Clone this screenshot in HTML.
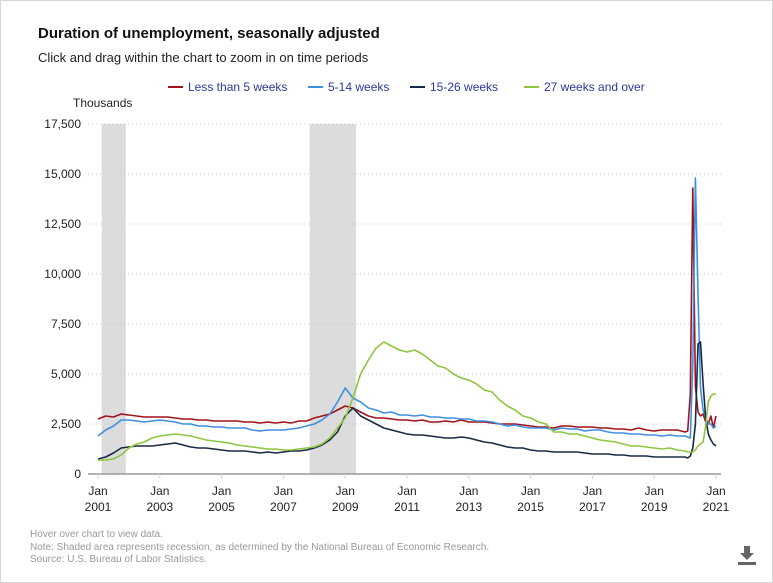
<!DOCTYPE html>
<html><head><meta charset="utf-8"><style>
body{margin:0;background:#fff;font-family:"Liberation Sans",sans-serif}
#wrap{position:relative;width:771px;height:581px;border:1px solid #d6d6d6;overflow:hidden}
.t{position:absolute;white-space:nowrap}
</style></head><body>
<div id="wrap">
<div class="t" style="left:37px;top:24px;font-size:15px;font-weight:bold;color:#111">Duration of unemployment, seasonally adjusted</div>
<div class="t" style="left:37px;top:49px;font-size:13px;color:#222">Click and drag within the chart to zoom in on time periods</div>
<svg id="chart" width="773" height="583" style="position:absolute;left:0;top:0"></svg>
<div class="t" style="left:29px;top:528px;font-size:10px;color:#999;line-height:12.5px">Hover over chart to view data.<br>Note: Shaded area represents recession, as determined by the National Bureau of Economic Research.<br>Source: U.S. Bureau of Labor Statistics.</div>
<svg width="22" height="22" style="position:absolute;left:735px;top:543px"><path d="M8 2h6v7h4l-7 7-7-7h4z" fill="#666"/><rect x="2" y="18" width="18" height="3" fill="#666"/></svg>
</div>
<script>
const seriesNames=["Less than 5 weeks","5-14 weeks","15-26 weeks","27 weeks and over"];
const colors=["#a0131c","#3f8fe0","#1a2a44","#8dc63f"];
const yTicks=[0,2500,5000,7500,10000,12500,15000,17500];
const xTickYears=[2001,2003,2005,2007,2009,2011,2013,2015,2017,2019,2021];
const recessions=[[2001.12,2001.9],[2007.85,2009.35]];
const lt5=[2750,2900,2850,3000,2950,2900,2850,2850,2850,2850,2800,2750,2750,2700,2700,2650,2650,2650,2650,2600,2600,2550,2600,2550,2600,2550,2650,2650,2800,2900,3000,3200,3400,3300,3100,2900,2800,2800,2750,2700,2700,2650,2700,2600,2600,2650,2600,2700,2600,2600,2600,2550,2500,2500,2500,2450,2400,2350,2350,2300,2400,2400,2350,2350,2350,2300,2300,2250,2250,2200,2300,2200,2150,2200,2200,2200,
2100,2150,4000,14300,4400,3100,2900,3000,2600,2500,2900,2300,2900];
const w5to14=[1900,2200,2400,2700,2700,2650,2600,2650,2700,2650,2600,2500,2500,2400,2400,2350,2350,2300,2300,2300,2200,2150,2200,2200,2200,2250,2300,2400,2500,2700,3000,3600,4300,3800,3600,3300,3200,3050,3100,2950,2950,2900,2950,2850,2850,2800,2800,2750,2750,2650,2650,2600,2500,2400,2450,2350,2300,2300,2300,2200,2300,2250,2250,2150,2200,2200,2100,2050,2050,2000,2000,1950,1950,1900,1950,1900,
1900,1850,1800,5500,14800,9000,4300,3200,2800,2500,2500,2300,2400];
const w15to26=[750,850,1050,1300,1350,1400,1400,1400,1450,1500,1550,1450,1350,1300,1300,1250,1200,1150,1150,1150,1100,1050,1100,1050,1100,1150,1150,1200,1300,1450,1700,2100,2900,3300,2900,2700,2500,2300,2200,2100,2000,1950,1950,1900,1850,1800,1800,1850,1800,1700,1600,1550,1450,1350,1300,1300,1200,1150,1150,1100,1100,1100,1100,1050,1000,1000,1000,950,950,900,900,900,850,850,850,850,
850,800,900,1300,2500,6500,6600,4500,2800,2000,1700,1500,1400];
const w27plus=[700,700,750,950,1300,1500,1600,1800,1900,1950,2000,1950,1900,1800,1700,1650,1600,1550,1450,1400,1350,1300,1250,1250,1200,1200,1250,1300,1350,1500,1800,2300,2800,3800,5000,5700,6300,6600,6400,6200,6100,6200,6000,5700,5400,5300,5000,4800,4700,4500,4200,4100,3700,3400,3200,2900,2800,2600,2500,2100,2100,2000,2000,1900,1800,1700,1650,1600,1500,1400,1400,1350,1300,1250,1300,1200,
1150,1100,1100,1100,1200,1400,1500,1600,2400,3600,3900,4000,4000];
// time index in months from Jan 2001: quarterly through 2019, monthly from Jan 2020
const months=[];
for(let q=0;q<76;q++)months.push(q*3);
for(let m=0;m<13;m++)months.push(228+m);
const allSeries=[lt5,w5to14,w15to26,w27plus];

const svg=document.getElementById('chart');
const NS='http://www.w3.org/2000/svg';
const X0=97,X1=715,Y0=473,Y1=123;
const xM=m=>X0+(X1-X0)*m/240;
const xY=yr=>xM((yr-2001)*12);
const y=v=>Y0-(Y0-Y1)*v/17500;
function el(t,a){const e=document.createElementNS(NS,t);for(const k in a)e.setAttribute(k,a[k]);svg.appendChild(e);return e;}
recessions.forEach(r=>{const e=el('rect',{x:xY(r[0]),y:Y1,width:xY(r[1])-xY(r[0]),height:Y0-Y1,fill:'#dcdcdc'});

});
yTicks.forEach(v=>{
 if(v>0){const g=el('line',{x1:87,x2:720,y1:y(v),y2:y(v),stroke:'#c8c8c8','stroke-dasharray':'1,3'});
 
 }
 const t=el('text',{x:80,y:y(v)+4,'text-anchor':'end','font-size':'12',fill:'#222'});t.textContent=v.toLocaleString('en-US');
 
 
});
const yt=el('text',{x:72,y:106,'font-size':'12',fill:'#222'});yt.textContent='Thousands';


const ax=el('line',{x1:87,x2:720,y1:Y0,y2:Y0,stroke:'#999','stroke-width':1.5});


xTickYears.forEach(yr=>{
 const xx=xY(yr);
 const tk=el('line',{x1:xx,x2:xx,y1:Y0,y2:Y0+5,stroke:'#ccd6eb'});
 
 
 const t=el('text',{x:xx,y:494,'text-anchor':'middle','font-size':'12',fill:'#222'});t.textContent='Jan';
 
 
 const t2=el('text',{x:xx,y:510,'text-anchor':'middle','font-size':'12',fill:'#222'});t2.textContent=yr;
 
 
});
allSeries.forEach((s,i)=>{
 const d=s.map((v,k)=>(k?'L':'M')+xM(months[k]).toFixed(1)+','+y(v).toFixed(1)).join('');
 const p=el('path',{d:d,fill:'none',stroke:colors[i],'stroke-width':1.6,'stroke-linejoin':'round'});
 
 
});
const lx=[167,307,409,523];
seriesNames.forEach((n,i)=>{
 const l=el('line',{x1:lx[i],x2:lx[i]+15,y1:86,y2:86,stroke:colors[i],'stroke-width':2});
 
 
 const t=el('text',{x:lx[i]+20,y:90,'font-size':'12',fill:'#2a3a9a'});t.textContent=n;
 
 
});
</script>
</body></html>
